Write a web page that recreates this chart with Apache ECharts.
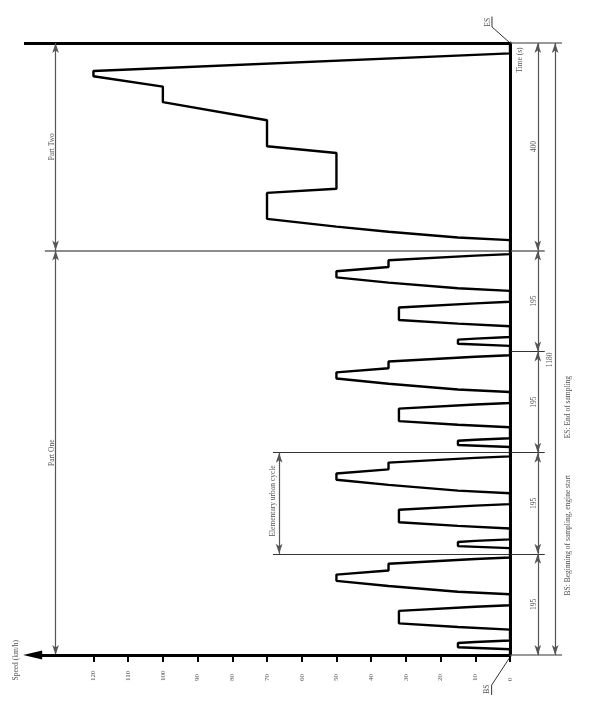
<!DOCTYPE html>
<html><head><meta charset="utf-8">
<script src="https://cdn.jsdelivr.net/npm/echarts@6/dist/echarts.min.js"></script>
<style>html,body{margin:0;padding:0;background:#fff}#c{width:589px;height:703px}</style>
</head><body><div id="c"></div>
<script>
// ---- data ----
// Elementary urban cycle (relative time s, speed km/h)
const eceTime  = [0, 11, 15, 23, 25, 28, 49, 54, 56, 61, 85, 93, 96, 117, 122, 124, 133, 135, 143, 155, 163, 176, 178, 185, 188, 195];
const eceSpeed = [0,  0, 15, 15, 10,  0,  0, 15, 15, 32, 32, 10,  0,   0,  15,  15,  35,  35,  50,  50,  35,  35,  35,  10,   0,   0];
const eceStarts = [0, 195, 390, 585];
// Extra-urban part (Part Two)
const eudcStart = 780;
const eudcTime  = [0, 20, 25, 27, 36, 38, 46, 48, 61, 111, 119, 188, 201, 251, 286, 316, 336, 346, 380, 400];
const eudcSpeed = [0,  0, 15, 15, 35, 35, 50, 50, 70,  70,  50,  50,  70,  70, 100, 100, 120, 120,   0,   0];
const speedTicks = [0, 10, 20, 30, 40, 50, 60, 70, 80, 90, 100, 110, 120];
const phaseBounds = [0, 195, 390, 585, 780, 1180];
const phaseLabels = ['195', '195', '195', '195', '400'];
const totalTime = 1180;
const partBound = 780;

// ---- layout constants (data units) ----
const X_MIN = -22, X_MAX = 140;
const DIM_PHASE = -8, DIM_TOTAL = -13, DIM_PART = 130.9, DIM_URBAN = 66.5;
const EXT_END = -10, EXT_FAR = -15;

const profile = [];
eceStarts.forEach(s => eceTime.forEach((t, i) => profile.push([eceSpeed[i], s + t])));
eudcTime.forEach((t, i) => profile.push([eudcSpeed[i], eudcStart + t]));

const GRAY = '#555';
const FONT = 'Liberation Serif';

const dimData = [];
for (let i = 0; i < phaseBounds.length - 1; i++) dimData.push([{coord: [DIM_PHASE, phaseBounds[i]]}, {coord: [DIM_PHASE, phaseBounds[i + 1]]}]);
dimData.push([{coord: [DIM_TOTAL, 0]}, {coord: [DIM_TOTAL, totalTime]}]);
dimData.push([{coord: [DIM_PART, 0]}, {coord: [DIM_PART, partBound]}]);
dimData.push([{coord: [DIM_PART, partBound]}, {coord: [DIM_PART, totalTime]}]);
dimData.push([{coord: [DIM_URBAN, eceStarts[1]]}, {coord: [DIM_URBAN, eceStarts[2]]}]);

const extData = [
  [{coord: [0, 0], lineStyle: {color: '#777', width: 1.5}}, {coord: [EXT_FAR, 0]}],
  [{coord: [0, totalTime], lineStyle: {color: '#777', width: 1.5}}, {coord: [EXT_FAR, totalTime]}],
  [{coord: [0, totalTime], lineStyle: {color: '#000', width: 3}}, {coord: [X_MAX, totalTime]}],
  [{coord: [68.3, eceStarts[1]]}, {coord: [EXT_END, eceStarts[1]]}],
  [{coord: [68.3, eceStarts[2]]}, {coord: [EXT_END, eceStarts[2]]}],
  [{coord: [0, eceStarts[3]]}, {coord: [EXT_END, eceStarts[3]]}],
  [{coord: [134, partBound], lineStyle: {color: '#666', width: 1.5}}, {coord: [EXT_END, partBound]}]
];

const chart = echarts.init(document.getElementById('c'), null, {renderer: 'canvas'});
chart.setOption({
  animation: false,
  backgroundColor: '#fff',
  grid: {left: 24, right: 2.6, top: 43, bottom: 48, containLabel: false, outerBoundsMode: 'none'},
  xAxis: {
    type: 'value', inverse: true, min: X_MIN, max: X_MAX,
    axisLine: {show: false},
    splitLine: {show: false},
    axisTick: {show: true, customValues: speedTicks, length: 7, lineStyle: {color: '#000', width: 2}},
    axisLabel: {show: true, customValues: speedTicks, rotate: 90, align: 'left', margin: 26,
      fontSize: 7, fontFamily: FONT, color: GRAY}
  },
  yAxis: {
    type: 'value', min: 0, max: totalTime,
    axisLine: {show: true, onZero: true, lineStyle: {color: '#000', width: 3}},
    axisTick: {show: false}, axisLabel: {show: false}, splitLine: {show: false}
  },
  series: [
    {
      type: 'line', data: [], silent: true,
      markLine: {silent: true, symbol: ['none', 'none'], label: {show: false},
        lineStyle: {type: 'solid', color: '#333', width: 1.2}, emphasis: {disabled: true},
        data: extData}
    },
    {
      type: 'line', data: [], silent: true,
      markLine: {silent: true, symbol: ['arrow', 'arrow'], symbolSize: [5, 10], label: {show: false},
        lineStyle: {type: 'solid', color: GRAY, width: 1.2}, emphasis: {disabled: true},
        data: dimData}
    },
    {
      type: 'line', data: [], silent: true,
      markLine: {silent: true, symbol: ['none', 'triangle'], symbolSize: [9, 19], label: {show: false},
        lineStyle: {type: 'solid', color: '#000', width: 3}, emphasis: {disabled: true},
        data: [[{coord: [0, 0]}, {coord: [137.5, 0]}]]}
    },
    {
      type: 'line', data: profile, showSymbol: false, silent: true,
      lineStyle: {color: '#000', width: 2.4}, z: 5
    }
  ]
});

function px(v, t) { return chart.convertToPixel({gridIndex: 0}, [v, t]); }
function rtext(v, t, text) {
  const p = px(v, t);
  return {type: 'text', x: p[0], y: p[1], rotation: Math.PI / 2, silent: true,
    style: {text: text, fontSize: 7.5, fontFamily: FONT, fill: GRAY,
      textAlign: 'center', textVerticalAlign: 'middle', align: 'center', verticalAlign: 'middle'}};
}
function pline(pts, color, width) {
  return {type: 'polyline', silent: true, shape: {points: pts.map(p => px(p[0], p[1]))},
    style: {stroke: color, lineWidth: width, fill: null}};
}
const g = [];
for (let i = 0; i < phaseLabels.length; i++) g.push(rtext(-6.8, (phaseBounds[i] + phaseBounds[i + 1]) / 2, phaseLabels[i]));
g.push(rtext(-11.5, 569, String(totalTime)));
g.push(rtext(131.9, partBound / 2, 'Part One'));
g.push(rtext(131.9, (partBound + totalTime) / 2, 'Part Two'));
g.push(rtext(68.3, 297, 'Elementary urban cycle'));
g.push(rtext(-2.9, 1147, 'Time (s)'));
g.push(rtext(142.4, -10, 'Speed (km/h)'));
g.push(rtext(-16.7, 478, 'ES: End of sampling'));
g.push(rtext(-16.7, 231, 'BS: Beginning of sampling, engine start'));
g.push(pline([[0, totalTime], [5.2, 1211], [5.2, 1231]], '#333', 1));
g.push(rtext(6.4, 1220, 'ES'));
g.push(pline([[0, -4], [5.3, -58], [5.3, -77]], '#333', 1));
g.push(rtext(6.5, -66, 'BS'));
chart.setOption({graphic: g});
</script></body></html>
